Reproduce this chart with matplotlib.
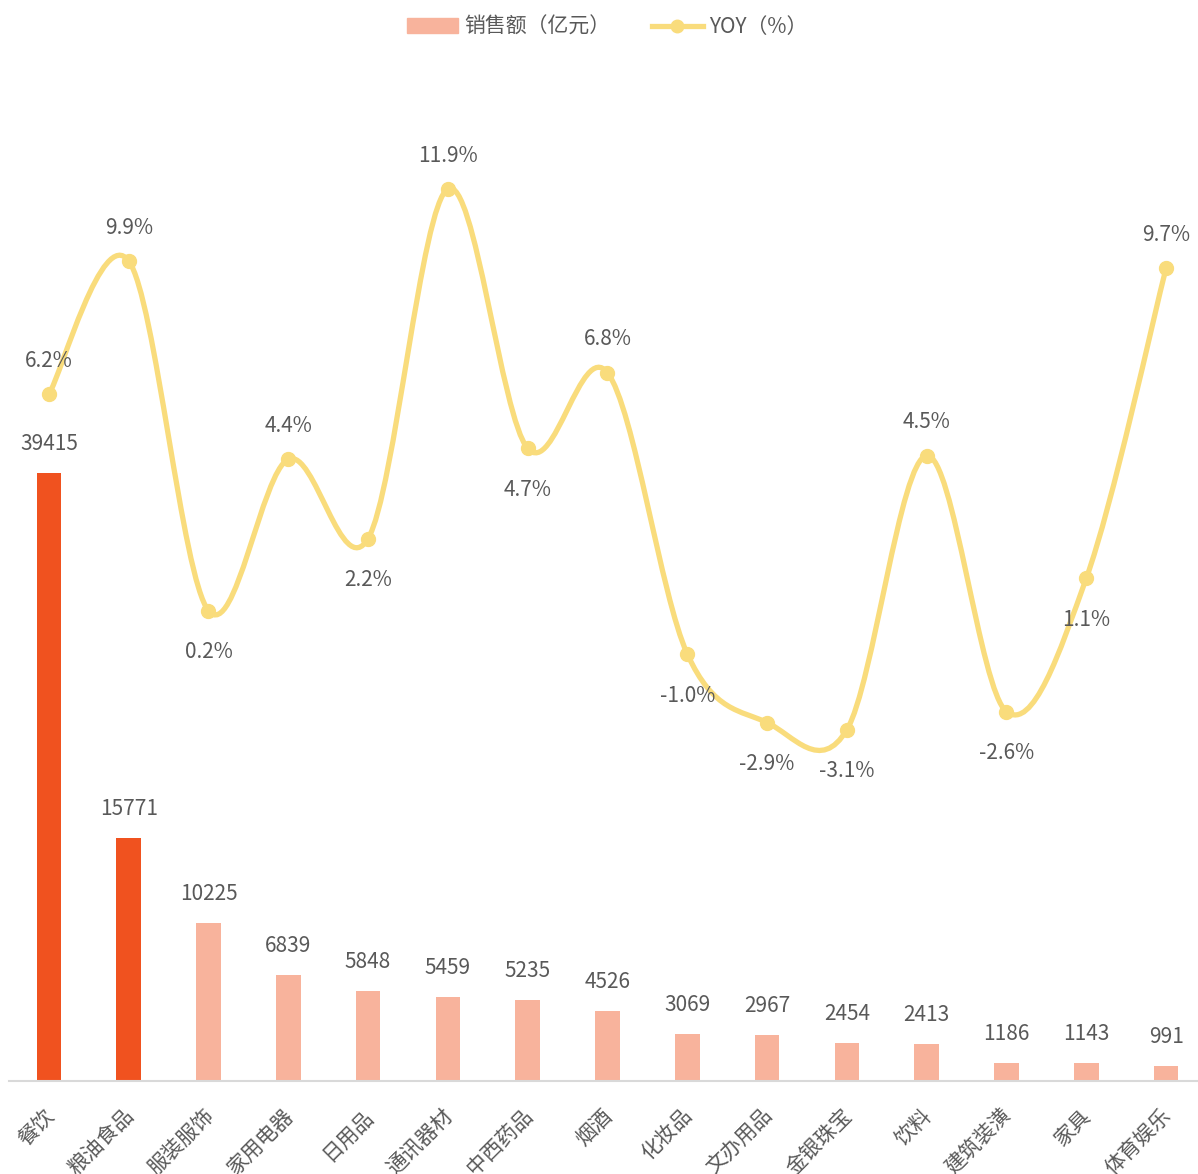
import matplotlib
matplotlib.use("Agg")
import matplotlib.pyplot as plt
import matplotlib.transforms as mtransforms
from matplotlib.path import Path
from matplotlib.patches import PathPatch, Patch
from matplotlib.lines import Line2D
import numpy as np

plt.rcParams['font.family'] = ['Noto Sans CJK SC', 'DejaVu Sans']

# data
categories = ['餐饮', '粮油食品', '服装服饰', '家用电器', '日用品', '通讯器材', '中西药品', '烟酒',
              '化妆品', '文办用品', '金银珠宝', '饮料', '建筑装潢', '家具', '体育娱乐']
sales = [39415, 15771, 10225, 6839, 5848, 5459, 5235, 4526, 3069, 2967, 2454, 2413, 1186, 1143, 991]
yoy = [6.2, 9.9, 0.2, 4.4, 2.2, 11.9, 4.7, 6.8, -1.0, -2.9, -3.1, 4.5, -2.6, 1.1, 9.7]
# label above (1) or below (-1) the point
yoy_pos = [1, 1, -1, 1, -1, 1, -1, 1, -1, -1, -1, 1, -1, -1, 1]

dark = '#F0521F'
light = '#F8B39C'
yellow = '#F9DC7C'
grey = '#595959'

fig = plt.figure(figsize=(11.98, 11.74), dpi=100)
ax = fig.add_axes([9 / 1198, 93 / 1174, 1 - 9 / 1198, 1021 / 1174])
x = np.arange(len(categories))
colors = [dark, dark] + [light] * (len(categories) - 2)
ax.bar(x, sales, width=0.31, color=colors, zorder=2)
for xi, v in zip(x, sales):
    ax.annotate(str(v), (xi, v), xytext=(0, 13), textcoords='offset points',
                ha='center', va='bottom', fontsize=15, color=grey)
ax.set_xlim(-0.5, 14.4)
ax.set_ylim(0, 66170)
ax.set_yticks([])
for s in ['top', 'right', 'left']:
    ax.spines[s].set_visible(False)
ax.spines['bottom'].set_color('#D9D9D9')
ax.spines['bottom'].set_linewidth(1.5)
ax.set_xticks(x)
ax.set_xticklabels(categories, rotation=45, ha='right', rotation_mode='anchor',
                   fontsize=15, color=grey)
ax.tick_params(axis='x', length=0, pad=17)
shift = mtransforms.ScaledTranslation(-6 / 100, 0, fig.dpi_scale_trans)
for lbl in ax.get_xticklabels():
    lbl.set_transform(lbl.get_transform() + shift)

# YOY on a hidden second axis, smoothed line like Excel
ax2 = ax.twinx()
ax2.set_ylim(-12.84, 15.47)
ax2.set_yticks([])
for s in ax2.spines.values():
    s.set_visible(False)
pts = np.column_stack([x, yoy]).astype(float)
verts = [pts[0]]
codes = [Path.MOVETO]
n = len(pts)
for i in range(n - 1):
    p0 = pts[i - 1] if i > 0 else pts[i]
    p1 = pts[i]
    p2 = pts[i + 1]
    p3 = pts[i + 2] if i + 2 < n else pts[i + 1]
    c1 = p1 + (p2 - p0) / 6
    c2 = p2 - (p3 - p1) / 6
    verts += [c1, c2, p2]
    codes += [Path.CURVE4] * 3
ax2.add_patch(PathPatch(Path(verts, codes), facecolor='none', edgecolor=yellow,
                        lw=3.8, capstyle='round', zorder=3))
ax2.plot(x, yoy, 'o', color=yellow, markersize=10, zorder=4)
for xi, v, p in zip(x, yoy, yoy_pos):
    off = 16 if p > 0 else -22
    ax2.annotate(f'{v:.1f}%', (xi, v), xytext=(0, off), textcoords='offset points',
                 ha='center', va='bottom' if p > 0 else 'top', fontsize=15, color=grey)

handles = [Patch(color=light, label='销售额（亿元）'),
           Line2D([0], [0], color=yellow, lw=3.8, marker='o', markersize=9, label='YOY（%）')]
fig.legend(handles=handles, loc='center', bbox_to_anchor=(607 / 1198, 1 - 27 / 1174),
           ncol=2, frameon=False, fontsize=15, labelcolor=grey, handlelength=2.45,
           columnspacing=2.0, handletextpad=0.3)

fig.savefig('out.png', dpi=100)
